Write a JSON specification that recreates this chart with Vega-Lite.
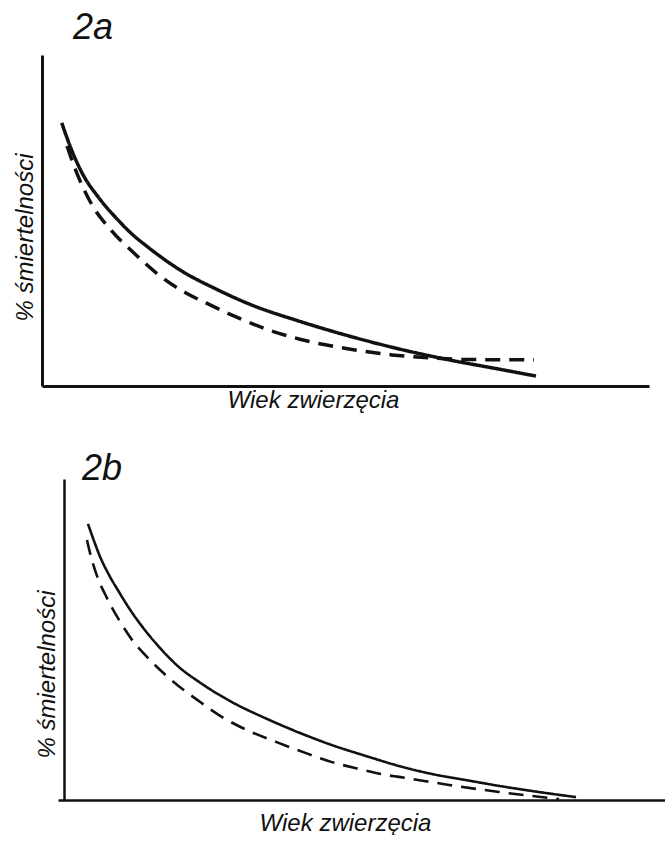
{
  "$schema": "https://vega.github.io/schema/vega-lite/v6.json",
  "background": "white",
  "padding": {"left": 13, "top": 10, "right": 0, "bottom": 0},
  "spacing": 39,
  "config": {
    "view": {"stroke": null},
    "font": "Liberation Sans",
    "axis": {
      "labels": false,
      "ticks": false,
      "grid": false,
      "domainColor": "#111111",
      "titleColor": "#111111",
      "titleFont": "Liberation Sans",
      "titleFontSize": 24,
      "titleFontStyle": "italic",
      "titleFontWeight": "normal",
      "titleAlign": "center"
    }
  },
  "datasets": {
    "a": [
      {"krzywa": "ciągła", "wiek": 3.25, "smiertelnosc": 79.5},
      {"krzywa": "ciągła", "wiek": 4.94, "smiertelnosc": 71.0},
      {"krzywa": "ciągła", "wiek": 6.59, "smiertelnosc": 64.4},
      {"krzywa": "ciągła", "wiek": 9.39, "smiertelnosc": 56.8},
      {"krzywa": "ciągła", "wiek": 12.19, "smiertelnosc": 50.8},
      {"krzywa": "ciągła", "wiek": 14.83, "smiertelnosc": 45.9},
      {"krzywa": "ciągła", "wiek": 17.63, "smiertelnosc": 41.7},
      {"krzywa": "ciągła", "wiek": 23.06, "smiertelnosc": 34.7},
      {"krzywa": "ciągła", "wiek": 28.67, "smiertelnosc": 29.3},
      {"krzywa": "ciągła", "wiek": 34.1, "smiertelnosc": 24.8},
      {"krzywa": "ciągła", "wiek": 42.34, "smiertelnosc": 19.6},
      {"krzywa": "ciągła", "wiek": 50.58, "smiertelnosc": 15.1},
      {"krzywa": "ciągła", "wiek": 58.81, "smiertelnosc": 11.2},
      {"krzywa": "ciągła", "wiek": 67.05, "smiertelnosc": 7.9},
      {"krzywa": "ciągła", "wiek": 75.29, "smiertelnosc": 5.1},
      {"krzywa": "ciągła", "wiek": 81.38, "smiertelnosc": 3.0},
      {"krzywa": "przerywana", "wiek": 4.12, "smiertelnosc": 72.5},
      {"krzywa": "przerywana", "wiek": 5.27, "smiertelnosc": 66.5},
      {"krzywa": "przerywana", "wiek": 8.24, "smiertelnosc": 54.7},
      {"krzywa": "przerywana", "wiek": 11.37, "smiertelnosc": 47.1},
      {"krzywa": "przerywana", "wiek": 15.49, "smiertelnosc": 39.6},
      {"krzywa": "przerywana", "wiek": 19.28, "smiertelnosc": 33.5},
      {"krzywa": "przerywana", "wiek": 23.72, "smiertelnosc": 28.1},
      {"krzywa": "przerywana", "wiek": 27.02, "smiertelnosc": 25.1},
      {"krzywa": "przerywana", "wiek": 32.45, "smiertelnosc": 20.5},
      {"krzywa": "przerywana", "wiek": 37.4, "smiertelnosc": 16.9},
      {"krzywa": "przerywana", "wiek": 42.34, "smiertelnosc": 14.2},
      {"krzywa": "przerywana", "wiek": 50.58, "smiertelnosc": 11.2},
      {"krzywa": "przerywana", "wiek": 57.66, "smiertelnosc": 9.4},
      {"krzywa": "przerywana", "wiek": 63.76, "smiertelnosc": 8.5},
      {"krzywa": "przerywana", "wiek": 70.35, "smiertelnosc": 8.0},
      {"krzywa": "przerywana", "wiek": 81.05, "smiertelnosc": 7.9}
    ],
    "b": [
      {"krzywa": "ciągła", "wiek": 7.58, "smiertelnosc": 86.0},
      {"krzywa": "ciągła", "wiek": 8.57, "smiertelnosc": 80.7},
      {"krzywa": "ciągła", "wiek": 9.39, "smiertelnosc": 76.6},
      {"krzywa": "ciągła", "wiek": 11.04, "smiertelnosc": 70.1},
      {"krzywa": "ciągła", "wiek": 12.69, "smiertelnosc": 64.8},
      {"krzywa": "ciągła", "wiek": 14.33, "smiertelnosc": 59.8},
      {"krzywa": "ciągła", "wiek": 16.8, "smiertelnosc": 53.3},
      {"krzywa": "ciągła", "wiek": 19.28, "smiertelnosc": 47.7},
      {"krzywa": "ciągła", "wiek": 22.57, "smiertelnosc": 41.4},
      {"krzywa": "ciągła", "wiek": 25.86, "smiertelnosc": 36.8},
      {"krzywa": "ciągła", "wiek": 31.3, "smiertelnosc": 30.5},
      {"krzywa": "ciągła", "wiek": 36.9, "smiertelnosc": 25.4},
      {"krzywa": "ciągła", "wiek": 42.34, "smiertelnosc": 21.0},
      {"krzywa": "ciągła", "wiek": 47.78, "smiertelnosc": 17.1},
      {"krzywa": "ciągła", "wiek": 53.38, "smiertelnosc": 13.7},
      {"krzywa": "ciągła", "wiek": 58.81, "smiertelnosc": 10.6},
      {"krzywa": "ciągła", "wiek": 64.25, "smiertelnosc": 8.1},
      {"krzywa": "ciągła", "wiek": 69.85, "smiertelnosc": 6.2},
      {"krzywa": "ciągła", "wiek": 75.29, "smiertelnosc": 4.4},
      {"krzywa": "ciągła", "wiek": 80.72, "smiertelnosc": 2.8},
      {"krzywa": "ciągła", "wiek": 87.97, "smiertelnosc": 0.9},
      {"krzywa": "przerywana", "wiek": 7.41, "smiertelnosc": 81.0},
      {"krzywa": "przerywana", "wiek": 7.91, "smiertelnosc": 77.0},
      {"krzywa": "przerywana", "wiek": 9.06, "smiertelnosc": 69.8},
      {"krzywa": "przerywana", "wiek": 10.71, "smiertelnosc": 62.9},
      {"krzywa": "przerywana", "wiek": 12.69, "smiertelnosc": 56.1},
      {"krzywa": "przerywana", "wiek": 14.99, "smiertelnosc": 49.5},
      {"krzywa": "przerywana", "wiek": 17.63, "smiertelnosc": 43.9},
      {"krzywa": "przerywana", "wiek": 20.92, "smiertelnosc": 38.0},
      {"krzywa": "przerywana", "wiek": 25.86, "smiertelnosc": 30.8},
      {"krzywa": "przerywana", "wiek": 29.98, "smiertelnosc": 25.5},
      {"krzywa": "przerywana", "wiek": 34.1, "smiertelnosc": 21.5},
      {"krzywa": "przerywana", "wiek": 38.55, "smiertelnosc": 18.1},
      {"krzywa": "przerywana", "wiek": 43.49, "smiertelnosc": 14.6},
      {"krzywa": "przerywana", "wiek": 47.78, "smiertelnosc": 11.8},
      {"krzywa": "przerywana", "wiek": 52.22, "smiertelnosc": 9.7},
      {"krzywa": "przerywana", "wiek": 56.67, "smiertelnosc": 7.8},
      {"krzywa": "przerywana", "wiek": 58.81, "smiertelnosc": 7.2},
      {"krzywa": "przerywana", "wiek": 67.05, "smiertelnosc": 4.7},
      {"krzywa": "przerywana", "wiek": 75.29, "smiertelnosc": 2.5},
      {"krzywa": "przerywana", "wiek": 85.17, "smiertelnosc": 0.3}
    ]
  },
  "vconcat": [
    {
      "width": 607,
      "height": 331,
      "title": {
        "text": "2a",
        "frame": "group",
        "anchor": "start",
        "dx": 31,
        "offset": -20,
        "baseline": "alphabetic",
        "font": "Liberation Sans",
        "fontSize": 36,
        "fontStyle": "italic",
        "fontWeight": "normal",
        "color": "#111111"
      },
      "data": {"name": "a"},
      "mark": {"type": "line", "interpolate": "monotone", "strokeWidth": 3.5, "color": "#111111"},
      "encoding": {
        "x": {
          "field": "wiek",
          "type": "quantitative",
          "scale": {"domain": [0, 100]},
          "axis": {"title": "Wiek zwierzęcia", "domainWidth": 3, "titleX": 271, "titleY": 2, "titleBaseline": "top"}
        },
        "y": {
          "field": "smiertelnosc",
          "type": "quantitative",
          "scale": {"domain": [0, 100]},
          "axis": {"title": "% śmiertelności", "domainWidth": 3, "titleX": -5, "titleY": 182, "titleAngle": -90, "titleBaseline": "bottom"}
        },
        "strokeDash": {
          "field": "krzywa",
          "type": "nominal",
          "scale": {"domain": ["ciągła", "przerywana"], "range": [[1, 0], [15, 9]]},
          "legend": null
        }
      }
    },
    {
      "width": 607,
      "height": 321,
      "title": {
        "text": "2b",
        "frame": "group",
        "anchor": "start",
        "dx": 40,
        "offset": -37,
        "baseline": "alphabetic",
        "font": "Liberation Sans",
        "fontSize": 36,
        "fontStyle": "italic",
        "fontWeight": "normal",
        "color": "#111111"
      },
      "data": {"name": "b"},
      "mark": {"type": "line", "interpolate": "monotone", "strokeWidth": 2.6, "color": "#111111"},
      "encoding": {
        "x": {
          "field": "wiek",
          "type": "quantitative",
          "scale": {"domain": [0, 100]},
          "axis": {"title": "Wiek zwierzęcia", "domainWidth": 2.5, "position": 16, "titleX": 287, "titleY": 11, "titleBaseline": "top"}
        },
        "y": {
          "field": "smiertelnosc",
          "type": "quantitative",
          "scale": {"domain": [0, 100]},
          "axis": {"title": "% śmiertelności", "domainWidth": 2.5, "offset": -22, "titleX": -5, "titleY": 195, "titleAngle": -90, "titleBaseline": "bottom"}
        },
        "strokeDash": {
          "field": "krzywa",
          "type": "nominal",
          "scale": {"domain": ["ciągła", "przerywana"], "range": [[1, 0], [15, 9]]},
          "legend": null
        }
      }
    }
  ]
}
